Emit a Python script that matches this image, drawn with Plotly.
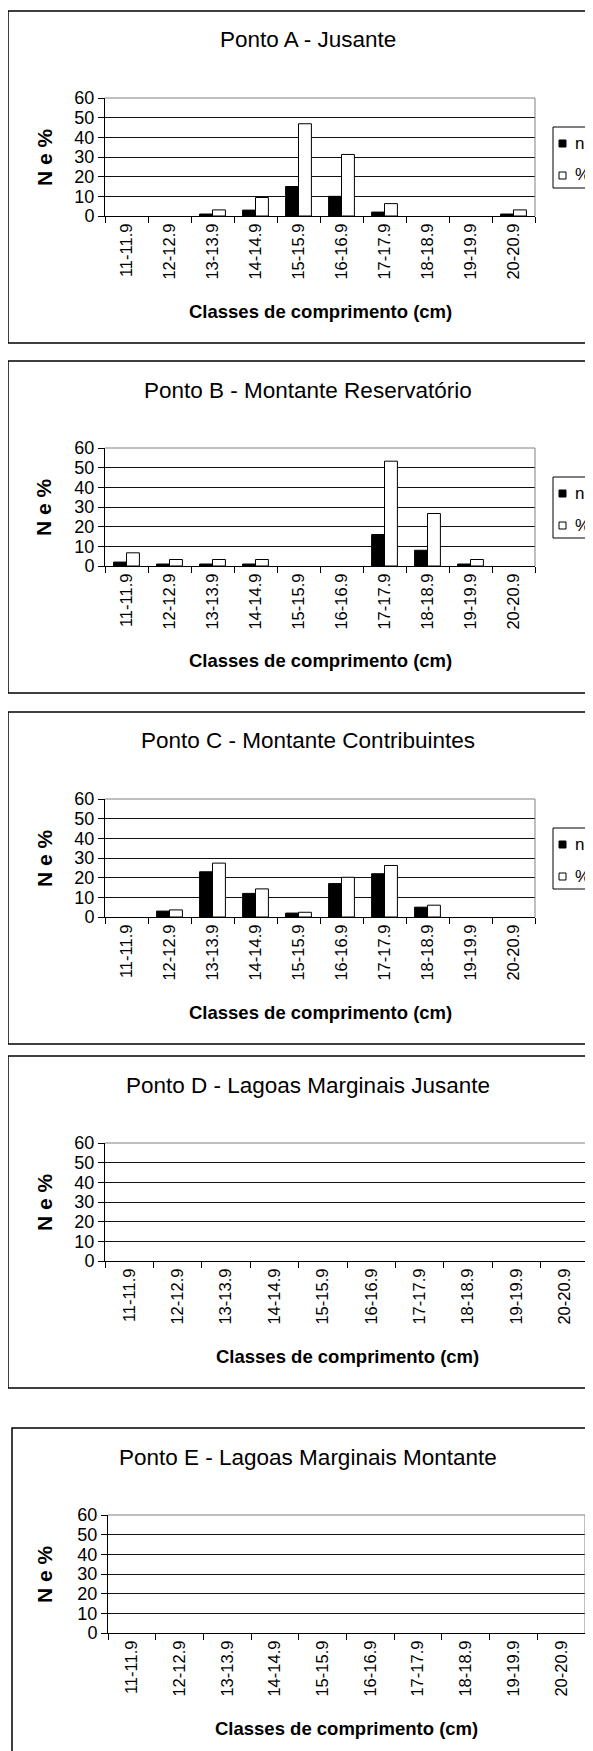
import plotly.graph_objects as go

# a pagina tem margem de 8px no body: a figura ocupa o resto da janela
OFF = 8
W, H = 593 - OFF, 1751 - OFF

classes = ["11-11.9", "12-12.9", "13-13.9", "14-14.9", "15-15.9",
           "16-16.9", "17-17.9", "18-18.9", "19-19.9", "20-20.9"]

titulos = ["Ponto A - Jusante",
           "Ponto B - Montante Reservatório",
           "Ponto C - Montante Contribuintes",
           "Ponto D - Lagoas Marginais Jusante",
           "Ponto E - Lagoas Marginais Montante"]

# n e % por classe de comprimento
n_a = [0, 0, 1, 3, 15, 10, 2, 0, 0, 1]
pct_a = [0, 0, 3.1, 9.4, 46.9, 31.3, 6.3, 0, 0, 3.1]
n_b = [2, 1, 1, 1, 0, 0, 16, 8, 1, 0]
pct_b = [6.7, 3.3, 3.3, 3.3, 0, 0, 53.3, 26.7, 3.3, 0]
n_c = [0, 3, 23, 12, 2, 17, 22, 5, 0, 0]
pct_c = [0, 3.6, 27.4, 14.3, 2.4, 20.2, 26.2, 6.0, 0, 0]
n_d = [0, 0, 0, 0, 0, 0, 0, 0, 0, 0]
pct_d = [0, 0, 0, 0, 0, 0, 0, 0, 0, 0]
n_e = [0, 0, 0, 0, 0, 0, 0, 0, 0, 0]
pct_e = [0, 0, 0, 0, 0, 0, 0, 0, 0, 0]

series = [(n_a, pct_a), (n_b, pct_b), (n_c, pct_c), (n_d, pct_d), (n_e, pct_e)]
nomes = ["n", "%"]
cores = ["black", "white"]

# geometria em pixels da janela: topo da caixa, x esquerda/direita da area do grafico, esquerda da caixa
caixas = [(11, 105, 535, 8), (361, 105, 535, 8), (712, 105, 535, 8),
          (1056, 105, 589, 8), (1428, 108, 585, 12)]
com_legenda = [True, True, True, False, False]

FONTE = "Liberation Sans, Arial, sans-serif"


def px_x(v):
    return (v - OFF) / W


def px_y(v):
    return 1 - (v - OFF) / H


fig = go.Figure()
annotations = []
shapes = []

for i, ((n, pct), (top, xl, xr, bl)) in enumerate(zip(series, caixas)):
    k = "" if i == 0 else str(i + 1)
    for nome, cor, vals in zip(nomes, cores, (n, pct)):
        # sem contorno nas barras de altura zero
        fig.add_trace(go.Bar(x=classes, y=vals, name=nome, xaxis="x" + k, yaxis="y" + k,
                             marker=dict(color=cor,
                                         line=dict(color="black", width=[1 if v else 0 for v in vals])),
                             showlegend=False))

    ptop, pbot = top + 87, top + 205
    fig.layout["xaxis" + k] = dict(
        domain=[px_x(xl), px_x(xr)], anchor="y" + k, type="category",
        tickson="boundaries", ticks="outside", ticklen=6, tickcolor="black",
        showline=True, linecolor="black", linewidth=1, showgrid=False,
        tickangle=-90, tickfont=dict(size=16.5, color="black", family=FONTE),
    )
    fig.layout["yaxis" + k] = dict(
        domain=[px_y(pbot), px_y(ptop)], anchor="x" + k, range=[0, 60], dtick=10,
        ticks="outside", ticklen=6, tickcolor="black",
        showline=True, linecolor="black", linewidth=1,
        showgrid=True, gridcolor="#111111", gridwidth=1,
        tickfont=dict(size=18, color="black", family=FONTE),
    )

    # legenda (caixa cortada na borda direita, como no original)
    if com_legenda[i]:
        shapes.append(dict(type="rect", xref="paper", yref="paper",
                           x0=px_x(553), x1=px_x(600), y0=px_y(top + 177), y1=px_y(top + 116),
                           line=dict(color="black", width=1), fillcolor="white"))
        for j, (nome, cor) in enumerate(zip(nomes, cores)):
            cy = top + 132 + 32 * j
            shapes.append(dict(type="rect", xref="paper", yref="paper",
                               x0=px_x(559), x1=px_x(566), y0=px_y(cy + 4), y1=px_y(cy - 3),
                               line=dict(color="black", width=1), fillcolor=cor))
            annotations.append(dict(text=nome, xref="paper", yref="paper",
                                    x=px_x(573), y=px_y(cy), xanchor="left", yanchor="middle",
                                    showarrow=False,
                                    font=dict(size=17, color="black", family=FONTE)))

    # borda cinza da area do grafico (topo e direita)
    shapes.append(dict(type="line", xref="x" + k + " domain", yref="y" + k + " domain",
                       x0=0, x1=1, y0=1, y1=1, line=dict(color="#808080", width=1)))
    shapes.append(dict(type="line", xref="x" + k + " domain", yref="y" + k + " domain",
                       x0=1, x1=1, y0=0, y1=1, line=dict(color="#808080", width=1)))
    # caixa externa
    shapes.append(dict(type="rect", xref="paper", yref="paper",
                       x0=px_x(bl), x1=px_x(610), y0=px_y(top + 332), y1=px_y(top),
                       line=dict(color="black", width=1.5), layer="below"))

    annotations.append(dict(text=titulos[i], xref="paper", yref="paper",
                            x=px_x(308), y=px_y(top + 29), xanchor="center", yanchor="middle",
                            showarrow=False,
                            font=dict(size=22.5, color="black", family=FONTE)))
    annotations.append(dict(text="<b>Classes de comprimento (cm)</b>", xref="paper", yref="paper",
                            x=px_x((xl + xr) / 2), y=px_y(top + 300),
                            xanchor="center", yanchor="middle", showarrow=False,
                            font=dict(size=18.5, color="black", family=FONTE)))
    annotations.append(dict(text="<b>N e %</b>", xref="paper", yref="paper", textangle=-90,
                            x=px_x(44), y=px_y((ptop + pbot) / 2),
                            xanchor="center", yanchor="middle", showarrow=False,
                            font=dict(size=21, color="black", family=FONTE)))

fig.update_layout(
    width=W, height=H,
    margin=dict(l=0, r=0, t=0, b=0, autoexpand=False),
    paper_bgcolor="white", plot_bgcolor="white",
    barmode="group", bargap=0.40, bargroupgap=0,
    showlegend=False,
    annotations=annotations, shapes=shapes,
    font=dict(family=FONTE, color="black"),
)

fig.write_html("out.html")
